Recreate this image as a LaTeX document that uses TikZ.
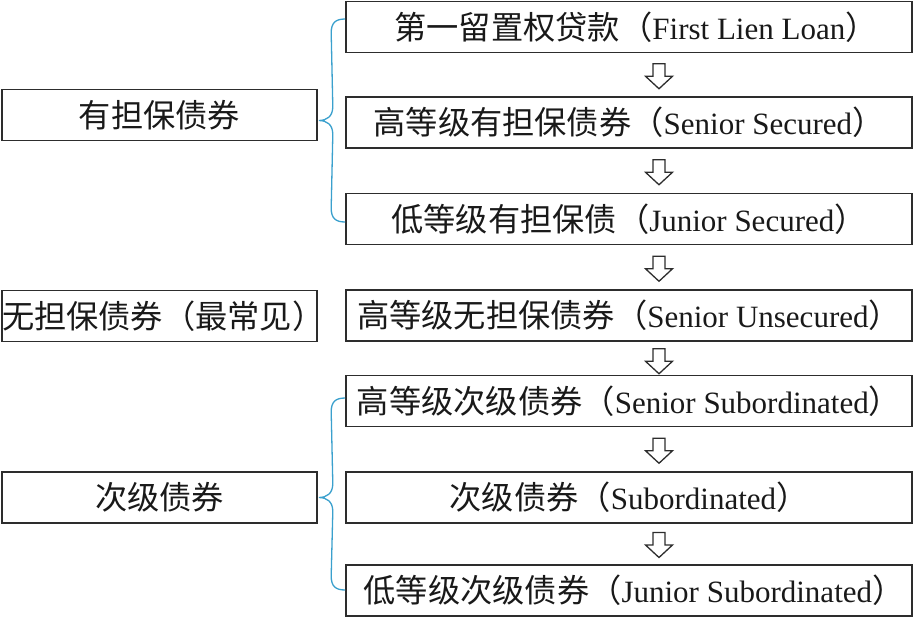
\documentclass[tikz,border=0pt]{standalone}
\usepackage{fontspec}
\setmainfont{Liberation Serif}
\newfontfamily\cjk[Scale=1.04]{Noto Sans CJK SC}
\usetikzlibrary{calc}
\definecolor{bracecol}{RGB}{58,160,205}
\definecolor{boxline}{RGB}{45,45,45}
\tikzset{
  rbox/.style={draw=boxline, line width=1.6pt, minimum width=566pt, minimum height=51pt, inner sep=0pt,
    font=\fontsize{31}{36}\selectfont, text=black!90},
  lbox/.style={draw=boxline, line width=1.6pt, text width=315pt, align=center, minimum height=51pt, inner sep=0pt,
    font=\fontsize{31}{36}\selectfont, text=black!90},
  bracestyle/.style={draw=bracecol, line width=1.3pt},
  hollowarrow/.pic={\draw[boxline, line width=1.3pt, line join=miter]
     (-6,-12.5) -- (6,-12.5) -- (6,0) -- (13.5,0) -- (0,12.5) -- (-13.5,0) -- (-6,0) -- cycle;}
}
\begin{document}
\begin{tikzpicture}[x=1pt,y=-1pt]
\useasboundingbox (0,0) rectangle (914,619);
% right column
\node[rbox] (b1) at (629,27) {\hspace{14pt}{\cjk 第一留置权贷款（}First Lien Loan{\cjk ）}};
\node[rbox] (b2) at (629,122.5) {{\cjk 高等级有担保债券（}Senior Secured{\cjk ）}};
\node[rbox] (b3) at (629,219) {{\cjk 低等级有担保债（}Junior Secured{\cjk ）}};
\node[rbox] (b4) at (629,315.5) {{\cjk 高等级无担保债券（}Senior Unsecured{\cjk ）}};
\node[rbox] (b5) at (629,401) {{\cjk 高等级次级债券（}Senior Subordinated{\cjk ）}};
\node[rbox] (b6) at (629,497.5) {{\cjk 次级债券（}Subordinated{\cjk ）}};
\node[rbox] (b7) at (629,590.5) {\hspace{10pt}{\cjk 低等级次级债券（}Junior Subordinated{\cjk ）}};
% left column
\node[lbox] (l1) at (159.5,115) {\cjk 有担保债券};
\node[lbox] (l2) at (159.5,316) {\cjk 无担保债券（最常见）};
\node[lbox] (l3) at (159.5,497.5) {\cjk 次级债券};
% arrows
\pic at ($(b1.south)!0.5!(b2.north)+(30,1.5)$) {hollowarrow};
\pic at ($(b2.south)!0.5!(b3.north)+(30,1.5)$) {hollowarrow};
\pic at ($(b3.south)!0.5!(b4.north)+(30,1.5)$) {hollowarrow};
\pic at ($(b4.south)!0.5!(b5.north)+(30,3)$) {hollowarrow};
\pic at ($(b5.south)!0.5!(b6.north)+(30,1.5)$) {hollowarrow};
\pic at ($(b6.south)!0.5!(b7.north)+(30,1)$) {hollowarrow};
% braces
\coordinate (t1) at ($(b1.west)+(0,-8)$);
\coordinate (m1) at ($(l1.east)+(1,5.5)$);
\coordinate (e1) at ($(b3.west)+(0,3)$);
\draw[bracestyle] (t1) .. controls +(-10,0) and +(0,-10) .. ($(t1)+(-14,14)$)
  -- ($(m1)+(14,-14)$) .. controls +(0,10) and +(8,0) .. (m1)
  .. controls +(8,0) and +(0,-10) .. ($(m1)+(14,14)$)
  -- ($(e1)+(-14,-14)$) .. controls +(0,10) and +(-10,0) .. (e1);
\coordinate (t2) at ($(b5.west)+(0,-3)$);
\coordinate (m2) at ($(l3.east)+(1,0)$);
\coordinate (e2) at ($(b7.west)+(0,-0.5)$);
\draw[bracestyle] (t2) .. controls +(-10,0) and +(0,-10) .. ($(t2)+(-14,14)$)
  -- ($(m2)+(14,-14)$) .. controls +(0,10) and +(8,0) .. (m2)
  .. controls +(8,0) and +(0,-10) .. ($(m2)+(14,14)$)
  -- ($(e2)+(-14,-14)$) .. controls +(0,10) and +(-10,0) .. (e2);
\end{tikzpicture}
\end{document}
